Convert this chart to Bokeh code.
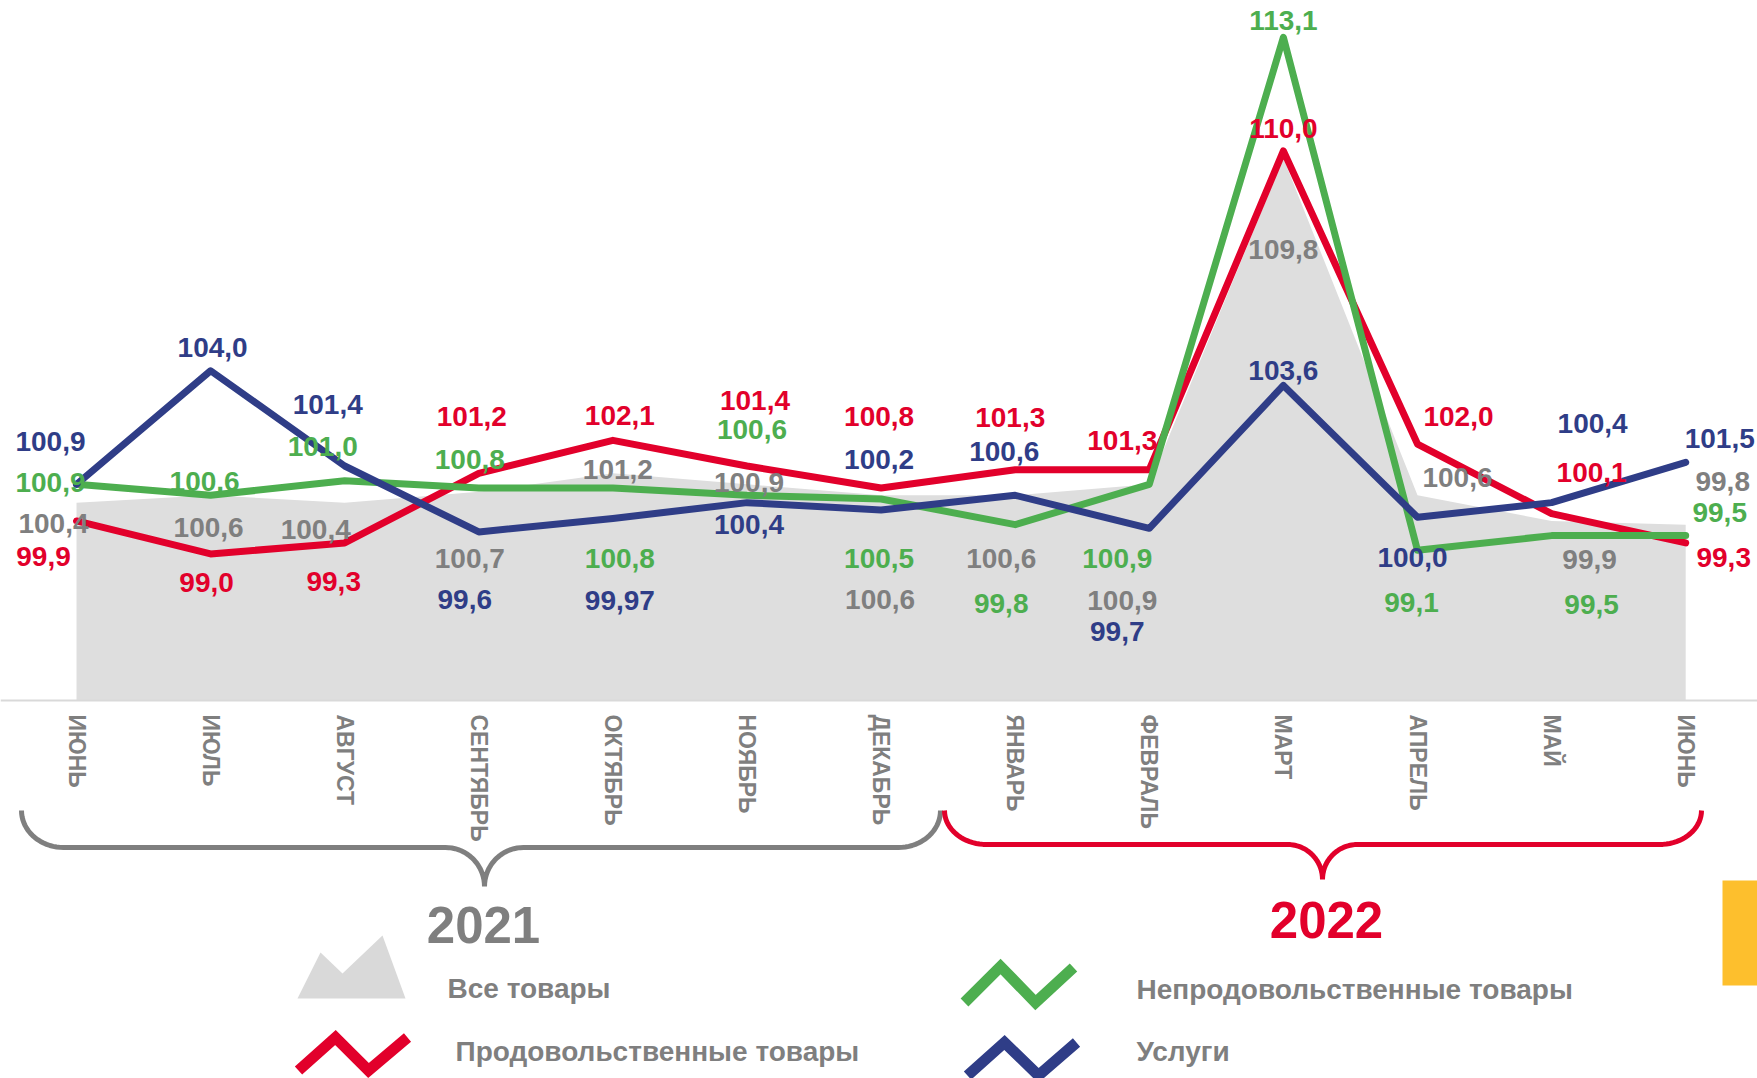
import numpy as np
from bokeh.plotting import figure
from bokeh.models import ColumnDataSource, Range1d, LinearAxis, FixedTicker
from bokeh.core.properties import value
from bokeh.embed import file_html
from bokeh.resources import INLINE

# ---------------- data ----------------
months = ["ИЮНЬ", "ИЮЛЬ", "АВГУСТ", "СЕНТЯБРЬ", "ОКТЯБРЬ", "НОЯБРЬ", "ДЕКАБРЬ",
          "ЯНВАРЬ", "ФЕВРАЛЬ", "МАРТ", "АПРЕЛЬ", "МАЙ", "ИЮНЬ"]
all_goods = [100.4, 100.6, 100.4, 100.7, 101.2, 100.9, 100.6, 100.6, 100.9, 109.8, 100.6, 99.9, 99.8]
food      = [99.9, 99.0, 99.3, 101.2, 102.1, 101.4, 100.8, 101.3, 101.3, 110.0, 102.0, 100.1, 99.3]
nonfood   = [100.9, 100.6, 101.0, 100.8, 100.8, 100.6, 100.5, 99.8, 100.9, 113.1, 99.1, 99.5, 99.5]
services  = [100.9, 104.0, 101.4, 99.6, 99.97, 100.4, 100.2, 100.6, 99.7, 103.6, 100.0, 100.4, 101.5]
years = ["2021", "2022"]
legend_labels = ["Все товары", "Продовольственные товары", "Непродовольственные товары", "Услуги"]

# label placement offsets in pixels (dx right, dy down) relative to each point
off_all = ([-23, -2, -29, -9, 5, 2, -1, -14, -27, 0, 40, 38, 37],
           [21, 32, 27, 67, -4, -2, 104, 63, 116, 91, -18, 39, -43])
off_food = ([-33, -4, -11, -7, 7, 8, -2, -5, -27, 0, 41, 40, 38],
            [36, 29, 39, -57, -25, -66, -71, -52, -29, -22, -28, -41, 15])
off_nonfood = ([-26, -6, -22, -9, 7, 5, -2, -14, -32, 0, -6, 40, 34],
               [-2, -14, -34, -28, 71, -66, 60, 79, 74, -17, 52, 69, -23])
off_services = ([-26, 2, -17, -14, 7, 2, -2, -11, -32, 0, -5, 41, 34],
                [-43, -23, -62, 68, 82, 22, -50, -44, 103, -15, 40, -79, -24])

# ---------------- styles / layout ----------------
RED = "#e2002b"
GREEN = "#4dae4f"
BLUE = "#2f3d87"
GREY_TXT = "#7f7f7f"
AREA = "#dedede"
FONT = "Liberation Sans"

W, H = 1757, 1078
X0_PX, DX = 76.0, 134.1        # pixel of first month, pixels per month
BASE, BASE_PX, DY = 95.0, 700.0, 36.64   # axis value, its pixel row, pixels per unit

x_range = Range1d(-X0_PX / DX, (W - X0_PX) / DX)
y_range = Range1d(BASE - (H - BASE_PX) / DY, BASE + BASE_PX / DY)

p = figure(width=W, height=H, x_range=x_range, y_range=y_range,
           x_axis_type=None, y_axis_type=None, output_backend="svg",
           toolbar_location=None, min_border=0, outline_line_color=None,
           background_fill_color="white", border_fill_color="white")
p.extra_x_ranges = {"px": Range1d(0, W)}
p.extra_y_ranges = {"py": Range1d(H, 0)}

idx = list(range(len(months)))

ax = LinearAxis(fixed_location=BASE,
                ticker=FixedTicker(ticks=idx),
                major_label_overrides={i: m for i, m in enumerate(months)},
                major_label_orientation="vertical",
                axis_line_color="#d9d9d9", axis_line_width=2,
                major_tick_line_color=None, minor_tick_line_color=None,
                major_tick_in=0, major_tick_out=0,
                major_label_standoff=14,
                major_label_text_color=GREY_TXT,
                major_label_text_font=FONT,
                major_label_text_font_style="bold",
                major_label_text_font_size="23px")
p.add_layout(ax, "below")

# area for all goods
p.varea(x=idx, y1=[BASE] * len(idx), y2=all_goods, fill_color=AREA)

# lines
for series, col in [(food, RED), (nonfood, GREEN), (services, BLUE)]:
    p.line(x=idx, y=series, line_color=col, line_width=7,
           line_join="round", line_cap="round")


def fmt(v):
    s = f"{v:.2f}" if abs(round(v, 1) - v) > 1e-9 else f"{v:.1f}"
    return s.replace(".", ",")


for series, off, col in [(all_goods, off_all, GREY_TXT), (services, off_services, BLUE),
                         (food, off_food, RED), (nonfood, off_nonfood, GREEN)]:
    src = ColumnDataSource(dict(
        x=[i + dx / DX for i, dx in zip(idx, off[0])],
        y=[v - dy / DY for v, dy in zip(series, off[1])],
        t=[fmt(v) for v in series]))
    p.text(x="x", y="y", text="t", source=src, text_color=col,
           text_font=value(FONT), text_font_style="bold", text_font_size="28px",
           text_align="center", text_baseline="middle")


# ---------------- decorations (pixel coordinates) ----------------
def brace(xl, xr, xm, yt, yh, yp, rx):
    t = np.linspace(0, np.pi / 2, 20)
    r = yp - yh
    xs, ys = [], []
    xs += list(xl + rx * (1 - np.cos(t))); ys += list(yt + (yh - yt) * np.sin(t))
    xs += list(xm - r + r * np.sin(t)); ys += list(yh + r * (1 - np.cos(t)))
    xs += list(xm + r * (1 - np.cos(t))); ys += list(yp - r * np.sin(t))
    xs += list(xr - rx + rx * np.sin(t)); ys += list(yh - (yh - yt) * (1 - np.cos(t)))
    return xs, ys


bx, by = brace(21, 940, 484, 810, 847, 886, 42)
p.line(bx, by, line_color=GREY_TXT, line_width=5, x_range_name="px", y_range_name="py")
bx, by = brace(944, 1701, 1322, 810, 844, 879, 42)
p.line(bx, by, line_color=RED, line_width=5, x_range_name="px", y_range_name="py")

p.text(x=[483], y=[924], text=[years[0]], text_color=GREY_TXT, text_font=value(FONT),
       text_font_style="bold", text_font_size="51px", text_align="center",
       text_baseline="middle", x_range_name="px", y_range_name="py")
p.text(x=[1326], y=[919], text=[years[1]], text_color=RED, text_font=value(FONT),
       text_font_style="bold", text_font_size="51px", text_align="center",
       text_baseline="middle", x_range_name="px", y_range_name="py")

# legend icons
p.patch([297, 320, 342, 382, 405], [998, 952, 973, 935, 998], fill_color="#d9d9d9",
        line_color=None, x_range_name="px", y_range_name="py")
for xs, ys, col in [([298, 335, 368, 407], [1070, 1037, 1070, 1037], RED),
                    ([964, 1000, 1035, 1073], [1002, 966, 1002, 967], GREEN),
                    ([967, 1004, 1038, 1076], [1075, 1042, 1075, 1042], BLUE)]:
    p.line(xs, ys, line_color=col, line_width=11, line_join="miter",
           x_range_name="px", y_range_name="py")

p.text(x=[447, 455, 1136, 1136], y=[988, 1051, 989, 1051], text=legend_labels,
       text_color=GREY_TXT, text_font=value(FONT), text_font_style="bold",
       text_font_size="28px", text_align="left", text_baseline="middle",
       x_range_name="px", y_range_name="py")

# yellow tab at the right edge
p.quad(left=[1722], right=[1760], top=[880], bottom=[985], fill_color="#fdbf2d",
       line_color=None, x_range_name="px", y_range_name="py")

open("out.html", "w").write(file_html(p, INLINE))
